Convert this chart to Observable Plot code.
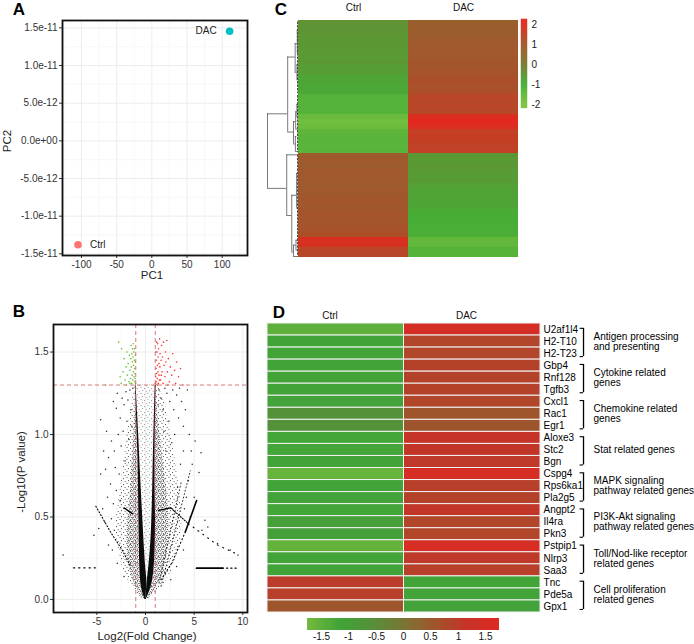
<!DOCTYPE html>
<html><head><meta charset="utf-8">
<script src="https://cdn.jsdelivr.net/npm/d3@7"></script>
<script src="https://cdn.jsdelivr.net/npm/@observablehq/plot@0.6"></script>
<style>
body{margin:0;background:#fff;}
#fig{position:relative;width:694px;height:644px;overflow:hidden;background:#fff;font-family:"Liberation Sans",Arial,Helvetica,sans-serif;color:#000;}
</style></head><body><div id="fig"></div>
<script>
// ================= DATA =================
// Panel A (PCA)
const pcaNames = ["Ctrl", "DAC"];
const pcaPC1 = [-105, 110.6];
const pcaPC2 = [-1.38e-11, 1.456e-11];
const pcaXTicks = [-100, -50, 0, 50, 100];
const pcaXMinor = [-125, -75, -25, 25, 75, 125];
const pcaYTicks = [-1.5e-11, -1e-11, -5e-12, 0, 5e-12, 1e-11, 1.5e-11];
const pcaYMinor = [-1.25e-11, -7.5e-12, -2.5e-12, 2.5e-12, 7.5e-12, 1.25e-11];

// Panel B (volcano) — outlines of the dense point cloud, read per -log10(p) level
const volY      = [0, 0.05, 0.1, 0.15, 0.2, 0.3, 0.4, 0.5, 0.6, 0.7, 0.8, 0.9, 1.0, 1.1, 1.2, 1.3];
const volOuterL = [-0.3,-1.1,-1.7,-2.1,-2.4,-2.8,-3.0,-3.0,-2.8,-2.5,-2.3,-2.1,-1.9,-1.6,-1.4,-1.1];
const volInnerL = [-0.2,-0.8,-1.2,-1.5,-1.7,-1.9,-1.9,-1.8,-1.6,-1.5,-1.4,-1.3,-1.2,-1.1,-1.05,-1.04];
const volArmLo  = [-0.05,-0.35,-0.5,-0.55,-0.6,-0.62,-0.65,-0.68,-0.7,-0.72,-0.74,-0.8,-0.86,-0.92,-0.98,-1.04];
const volArmLi  = [0,0.1,0.15,0.1,0,-0.1,-0.2,-0.28,-0.38,-0.46,-0.55,-0.62,-0.7,-0.79,-0.88,-0.97];
const volArmRi  = [0,0.1,0.15,0.25,0.35,0.5,0.6,0.66,0.71,0.75,0.78,0.82,0.86,0.9,0.95,1.0];
const volArmRo  = [0.08,0.45,0.7,0.82,0.9,1.0,1.02,1.04,1.0,0.98,0.98,0.98,1.0,1.02,1.05,1.1];
const volInnerR = [0.3,0.9,1.4,1.8,2.0,2.3,2.4,2.4,2.3,2.1,1.9,1.7,1.5,1.3,1.15,1.1];
const volOuterR = [0.4,1.3,2.0,2.5,2.9,3.4,3.7,3.8,3.6,3.4,3.2,2.9,2.6,2.3,2.0,1.3];
// streaks of points
const streakLeftDiag  = [[-5.1,0.565],[-3.6,0.41],[-2.4,0.30],[-1.5,0.2]];
const streakLeftElbow = [[-2.2,0.555],[-1.35,0.52]];
const streakLeftFlat  = [[-7.4,0.192],[-5.15,0.192]];
const streakRightSteep = [[5.25,0.6],[4.1,0.41]];
const streakRightSteepDots = [[4.1,0.41],[2.7,0.22],[1.6,0.12]];
const streakRightElbow = [[1.35,0.54],[2.6,0.555]];
const streakRightDiagA = [[2.6,0.555],[4.4,0.46]];
const streakRightDiagB = [[4.4,0.46],[7.4,0.33],[9.6,0.27]];
const streakRightFlat  = [[5.24,0.19],[7.9,0.19]];
const streakRightFlatDots = [[7.9,0.19],[9.6,0.19]];
const rayRight1 = [[1.6,0.08],[4.6,0.78]];
const rayRight2 = [[1.4,0.1],[3.7,0.72]];
const volBlack = [[-4.6,0.76],[-4.1,0.79],[-3.8,0.86],[-4.0,1.02],[-4.6,1.09],[-3.3,1.2],[-3.0,1.16],[-2.9,1.25],[-3.5,0.96],[-3.2,0.9],[-2.6,1.1],[-2.4,1.22],[-2.2,1.18],[-3.6,0.7],[-3.9,0.62],[-3.5,0.49],[-4.8,0.43],[-5.3,0.39],[-8.46,0.27],[-3.0,0.66],[-2.8,1.0],[-3.1,0.8],[-4.3,0.9],[-2.5,0.93],[-2.0,1.26],[-1.8,1.21],[-1.6,1.27],[-2.7,0.76],[-3.3,0.58],[-4.4,0.55],[-1.3,1.28],[-1.5,1.15],[-1.9,1.08],[-2.3,1.02],[-1.7,0.97],[-2.1,0.84],[-2.6,0.6],[-3.2,0.42],[-3.4,0.3],[-2.9,0.22],[-2.2,0.14],[-3.8,0.33],[-4.2,0.47],[-1.4,1.05],
  [5.7,0.89],[5.1,0.96],[4.3,1.27],[4.1,1.15],[3.9,1.05],[3.7,1.2],[4.5,1.0],[3.5,1.28],[3.2,1.24],[2.8,1.27],[2.5,1.2],[2.2,1.25],[4.8,0.82],[4.4,0.72],[3.9,0.9],[5.5,0.77],[3.4,1.1],[2.9,1.15],[3.0,1.0],[4.2,0.62],[2.0,1.28],[1.6,1.22],[1.8,1.15],[6.1,0.48],[6.4,0.44],[7.4,0.34],[8.7,0.3],[9.5,0.27],[5.8,0.42],[1.4,1.27],[1.3,1.18],[2.4,1.08],[2.7,0.95],[3.6,0.82],[4.0,0.55],[4.6,0.5],[3.9,0.3],[3.2,0.2],[2.6,0.12],[1.9,1.02],[2.1,0.9],[3.3,0.68],[5.0,0.62],[4.7,0.9]];
const volDown = [[-1.02,1.31],[-1.05,1.34],[-1.08,1.37],[-1.1,1.32],[-1.12,1.4],[-1.15,1.45],[-1.18,1.35],[-1.2,1.5],[-1.22,1.42],[-1.25,1.38],[-1.28,1.47],[-1.3,1.33],[-1.32,1.52],[-1.35,1.44],[-1.38,1.36],[-1.4,1.49],[-1.42,1.31],[-1.45,1.41],[-1.48,1.54],[-1.5,1.46],[-1.55,1.34],[-1.6,1.39],[-1.65,1.48],[-1.7,1.32],[-1.78,1.43],[-1.85,1.36],[-1.9,1.5],[-2.0,1.41],[-2.1,1.33],[-2.2,1.46],[-2.3,1.38],[-2.45,1.52],[-2.6,1.35],[-2.75,1.56],[-4.1,1.3],[-1.06,1.44],[-1.14,1.52],[-1.26,1.55],[-1.04,1.48],[-1.6,1.31],[-2.5,1.31],[-1.95,1.3]];
const volUp = [[1.02,1.31],[1.05,1.35],[1.08,1.4],[1.1,1.32],[1.12,1.45],[1.15,1.37],[1.18,1.5],[1.2,1.34],[1.22,1.42],[1.25,1.55],[1.28,1.38],[1.3,1.47],[1.32,1.31],[1.35,1.52],[1.38,1.43],[1.4,1.36],[1.45,1.58],[1.48,1.41],[1.5,1.49],[1.55,1.33],[1.6,1.45],[1.65,1.54],[1.7,1.38],[1.75,1.47],[1.8,1.31],[1.85,1.56],[1.9,1.42],[2.0,1.35],[2.05,1.5],[2.1,1.44],[2.2,1.57],[2.25,1.38],[2.35,1.46],[2.45,1.32],[2.55,1.41],[2.7,1.36],[2.8,1.49],[3.0,1.39],[3.2,1.44],[3.4,1.35],[3.6,1.4],[3.85,1.3],[1.06,1.5],[1.14,1.56],[1.24,1.3],[1.42,1.33],[1.62,1.36],[2.3,1.3],[3.1,1.31]];
const volXTicks = [-5, 0, 5, 10];
const volXMinor = [-7.5, -2.5, 2.5, 7.5];
const volYTicks = [0, 0.5, 1.0, 1.5];
const volYMinor = [0.25, 0.75, 1.25];
const fcCut = [-1, 1];
const pCut = [1.3];

// Panel C (clustered heatmap, 48 rows)
const heatCSamples = ["Ctrl", "DAC"];
const heatCCtrl = [-0.5,-0.55,-0.55,-0.6,-0.6,-0.6,-0.65,-0.65,-0.6,-0.7,-0.7,-0.85,-0.85,-0.9,-0.9,-1.25,-1.3,-1.25,-1.3,-1.7,-1.85,-1.75,-1.45,-1.4,-1.35,-1.4,-1.35,0.85,0.9,0.85,0.9,0.95,0.9,0.85,0.9,0.95,1.0,0.95,1.0,1.05,1.0,1.05,1.1,1.15,1.85,1.8,1.35,1.3];
const heatCDac  = [0.75,0.8,0.8,0.85,0.9,0.9,0.95,0.95,1.0,1.0,1.05,1.1,1.15,1.1,1.15,1.35,1.3,1.35,1.3,1.9,2.0,1.9,1.5,1.55,1.5,1.45,1.5,-0.6,-0.65,-0.6,-0.65,-0.7,-0.65,-0.75,-0.8,-0.8,-0.85,-0.85,-0.95,-1.0,-1.0,-1.05,-1.05,-1.1,-1.55,-1.5,-1.3,-1.3];
// dendrogram nodes: [height, upper child row, lower child row, upper child height, lower child height]
const dendNodes = [
  [0.99, 18.9, 34.0, 0.345, 0.376],
  [0.345, 7.4, 22.6, 0.107, 0.16],
  [0.107, 4.7, 10.5, 0.04, 0.05],
  [0.05, 9.0, 12.0, 0, 0],
  [0.04, 2.0, 6.5, 0, 0],
  [0.16, 20.5, 25.0, 0.09, 0.1],
  [0.09, 18.5, 22.0, 0.03, 0],
  [0.1, 23.5, 26.5, 0.05, 0],
  [0.05, 17.0, 19.5, 0, 0],
  [0.376, 27.2, 39.5, 0.01, 0.215],
  [0.215, 35.4, 46.9, 0.06, 0.16],
  [0.06, 31.0, 38.0, 0, 0],
  [0.16, 45.5, 47.8, 0.08, 0],
  [0.08, 44.5, 46.5, 0, 0]
];
const dendLeafBlocks = [[0.3, 14.8], [15.2, 26.8], [27.2, 47.7]];
const heatCTicks = [-2, -1, 0, 1, 2];
const heatCStops = [-2, -1, 0, 1, 2];
const heatCColors = ["#7ac140", "#46ad36", "#7b7832", "#a3562b", "#e2281f"];

// Panel D (selected genes)
const geneNames = ["U2af1l4","H2-T10","H2-T23","Gbp4","Rnf128","Tgfb3","Cxcl1","Rac1","Egr1","Aloxe3","Stc2","Bgn","Cspg4","Rps6ka1","Pla2g5","Angpt2","Il4ra","Pkn3","Pstpip1","Nlrp3","Saa3","Tnc","Pde5a","Gpx1"];
const geneCtrl = [-1.5,-1.15,-1.15,-1.15,-1.15,-1.15,-1.1,-0.6,-0.6,-1.2,-1.2,-1.15,-1.6,-1.15,-1.1,-1.2,-1.0,-1.05,-1.55,-1.15,-1.15,1.0,0.95,0.6];
const geneDac  = [1.5,0.85,0.85,0.9,0.9,0.9,0.85,0.6,0.6,1.15,1.1,1.05,1.55,0.95,0.9,1.1,0.85,0.85,1.55,1.05,0.95,-1.15,-1.15,-1.1];
const groupLabels = ["Antigen processing\nand presenting","Cytokine related\ngenes","Chemokine related\ngenes","Stat related genes","MAPK signaling\npathway related genes","PI3K-Akt signaling\npathway related genes","Toll/Nod-like receptor\nrelated genes","Cell proliferation\nrelated genes"];
const groupSizes = [3,3,3,3,3,3,3,3];
const heatDStops = [-1.75,-1.1667,-0.5833,0,0.5833,1.1667,1.75];
const heatDColors = ["#74b93d","#41a439","#55913a","#7a7635","#9e562c","#c73229","#de2a22"];
const heatDTicks = [-1.5,-1,-0.5,0,0.5,1,1.5];

// ================= HELPERS =================
const FONT = '"Liberation Sans", Arial, Helvetica, sans-serif';
const fig = document.getElementById("fig");
function put(el, left, top) {
  el.style.position = "absolute"; el.style.left = left + "px"; el.style.top = top + "px";
  fig.appendChild(el);
}
function txt(s, cx, cy, size, opt = {}) {
  const d = document.createElement("div");
  d.textContent = s;
  d.style.cssText = `position:absolute;left:${cx}px;top:${cy}px;font-size:${size}px;line-height:1;white-space:nowrap;font-family:${FONT};font-weight:${opt.bold ? "bold" : "normal"};color:${opt.color || "#000"};transform:translate(-50%,-50%)${opt.rot ? " rotate(-90deg)" : ""};`;
  fig.appendChild(d);
}
const sci = v => v === 0 ? "0.0e+00" : v.toExponential(1).replace(/e([+-])(\d)$/, (m, s, d) => "e" + s + "0" + d);
const plain = d => String(d);
const baseStyle = {fontFamily: FONT, fontSize: "10px", color: "#333", background: "transparent", overflow: "visible"};
const xy = d => ({x: d[0], y: d[1]});

// ================= PANEL A =================
const pca = pcaNames.map((n, i) => ({name: n, pc1: pcaPC1[i], pc2: pcaPC2[i]}));
const plotA = Plot.plot({
  width: 260, height: 280, marginLeft: 62, marginRight: 13, marginTop: 20, marginBottom: 25,
  style: baseStyle,
  x: {domain: [-127, 136], ticks: pcaXTicks, tickFormat: plain, tickSize: 3, tickPadding: 2, label: null},
  y: {domain: [-1.522e-11, 1.598e-11], ticks: pcaYTicks, tickFormat: sci, tickSize: 3, tickPadding: 2, label: null},
  marks: [
    Plot.ruleX(pcaXMinor, {stroke: "#f4f4f4", strokeWidth: 0.6}),
    Plot.ruleY(pcaYMinor, {stroke: "#f4f4f4", strokeWidth: 0.6}),
    Plot.ruleX(pcaXTicks, {stroke: "#ebebeb", strokeWidth: 0.9}),
    Plot.ruleY(pcaYTicks, {stroke: "#ebebeb", strokeWidth: 0.9}),
    Plot.dot(pca.filter(d => d.name === "Ctrl"), {x: "pc1", y: "pc2", r: 3.8, fill: "#F8766D"}),
    Plot.dot(pca.filter(d => d.name === "DAC"), {x: "pc1", y: "pc2", r: 3.8, fill: "#00BFC4"}),
    Plot.text(pca.filter(d => d.name === "Ctrl"), {x: "pc1", y: "pc2", text: "name", dx: 12, textAnchor: "start", fontSize: 10, fill: "#222"}),
    Plot.text(pca.filter(d => d.name === "DAC"), {x: "pc1", y: "pc2", text: "name", dx: -13, textAnchor: "end", fontSize: 10, fill: "#222"}),
    Plot.frame({stroke: "#111", strokeWidth: 1.8})
  ]
});
put(plotA, 0, 0);

// ================= PANEL B =================
const vol = volY.map((y, i) => ({y, oL: volOuterL[i], iL: volInnerL[i], aLo: volArmLo[i], aLi: volArmLi[i], aRi: volArmRi[i], aRo: volArmRo[i], iR: volInnerR[i], oR: volOuterR[i]}));
const lineXY = (arr, o) => Plot.line(arr, {x: d => d[0], y: d => d[1], stroke: "#000", ...o});
const plotB = Plot.plot({
  width: 260, height: 340, marginLeft: 53, marginRight: 13, marginTop: 34, marginBottom: 18,
  style: baseStyle,
  x: {domain: [-9.45, 10.48], ticks: volXTicks, tickFormat: plain, tickSize: 3, tickPadding: 2, label: null},
  y: {domain: [-0.079, 1.667], ticks: volYTicks, tickFormat: d3.format(".1f"), tickSize: 3, tickPadding: 2, label: null},
  marks: [
    Plot.ruleX(volXMinor, {stroke: "#f4f4f4", strokeWidth: 0.6}),
    Plot.ruleY(volYMinor, {stroke: "#f4f4f4", strokeWidth: 0.6}),
    Plot.ruleX(volXTicks, {stroke: "#ebebeb", strokeWidth: 0.9}),
    Plot.ruleY(volYTicks, {stroke: "#ebebeb", strokeWidth: 0.9}),
    Plot.areaX(vol, {y: "y", x1: "oL", x2: "aLo", fill: "url(#speckSparse)", curve: "basis"}),
    Plot.areaX(vol, {y: "y", x1: "iL", x2: "aLo", fill: "url(#speckDense)", curve: "basis"}),
    Plot.areaX(vol, {y: "y", x1: "aRo", x2: "oR", fill: "url(#speckSparse)", curve: "basis"}),
    Plot.areaX(vol, {y: "y", x1: "aRo", x2: "iR", fill: "url(#speckDense)", curve: "basis"}),
    Plot.areaX(vol, {y: "y", x1: "aLi", x2: "aRi", fill: "url(#speckSparse)", fillOpacity: 0.6, curve: "basis"}),
    Plot.areaX(vol, {y: "y", x1: "aLo", x2: "aLi", fill: "#000", fillOpacity: 0.95, curve: "basis"}),
    Plot.areaX(vol, {y: "y", x1: "aRi", x2: "aRo", fill: "#000", fillOpacity: 0.95, curve: "basis"}),
    lineXY(streakLeftDiag, {strokeWidth: 1.1, strokeDasharray: "1,2.2"}),
    lineXY(streakLeftElbow, {strokeWidth: 1.4}),
    lineXY(streakLeftFlat, {strokeWidth: 1.2, strokeDasharray: "1.2,4"}),
    lineXY(streakRightSteep, {strokeWidth: 1.6}),
    lineXY(streakRightSteepDots, {strokeWidth: 1.1, strokeDasharray: "1,2.8"}),
    lineXY(streakRightElbow, {strokeWidth: 1.4}),
    lineXY(streakRightDiagA, {strokeWidth: 1.1, strokeDasharray: "1,1.6"}),
    lineXY(streakRightDiagB, {strokeWidth: 1.1, strokeDasharray: "1,5"}),
    lineXY(streakRightFlat, {strokeWidth: 1.7}),
    lineXY(streakRightFlatDots, {strokeWidth: 1.2, strokeDasharray: "1.2,3"}),
    lineXY(rayRight1, {strokeWidth: 1, strokeDasharray: "1,2.5", strokeOpacity: 0.8}),
    lineXY(rayRight2, {strokeWidth: 1, strokeDasharray: "1,2.5", strokeOpacity: 0.8}),
    Plot.dot(volBlack.map(xy), {x: "x", y: "y", r: 0.75, fill: "#000", fillOpacity: 0.85}),
    Plot.dot(volDown.map(xy), {x: "x", y: "y", r: 0.8, fill: "#5ec22c"}),
    Plot.dot(volUp.map(xy), {x: "x", y: "y", r: 0.8, fill: "#ff2a2a"}),
    Plot.ruleX(fcCut, {stroke: "#d46a68", strokeWidth: 0.9, strokeDasharray: "4,3"}),
    Plot.ruleY(pCut, {stroke: "#d46a68", strokeWidth: 0.9, strokeDasharray: "4,3"}),
    Plot.frame({stroke: "#111", strokeWidth: 1.8})
  ]
});
{
  const ns = "http://www.w3.org/2000/svg";
  const defs = document.createElementNS(ns, "defs");
  defs.innerHTML =
    '<pattern id="speckSparse" width="7" height="6" patternUnits="userSpaceOnUse">' +
      '<circle cx="1" cy="1.2" r="0.55"/><circle cx="4.6" cy="2.6" r="0.55"/><circle cx="2.4" cy="4.6" r="0.55"/><circle cx="6.1" cy="5.4" r="0.5"/></pattern>' +
    '<pattern id="speckDense" width="4" height="4" patternUnits="userSpaceOnUse">' +
      '<circle cx="0.8" cy="0.8" r="0.6"/><circle cx="2.8" cy="1.6" r="0.6"/><circle cx="1.6" cy="3.0" r="0.6"/><circle cx="3.5" cy="3.5" r="0.5"/></pattern>';
  plotB.insertBefore(defs, plotB.firstChild);
}
put(plotB, 0, 290);

// ================= PANEL C =================
const colorC = {type: "linear", domain: heatCStops, range: heatCColors, interpolate: "rgb", clamp: true};
const cellsC = heatCCtrl.flatMap((v, i) => [
  {x1: 0, x2: 1, y1: i, y2: i + 1, v},
  {x1: 1, x2: 2, y1: i, y2: i + 1, v: heatCDac[i]}
]);
const plotC = Plot.plot({
  width: 220, height: 270, marginLeft: 0, marginRight: 0, marginTop: 20, marginBottom: 13,
  style: baseStyle,
  x: {domain: [0, 2], axis: null},
  y: {domain: [0, heatCCtrl.length], reverse: true, axis: null},
  color: colorC,
  marks: [
    Plot.rect(cellsC, {x1: "x1", x2: "x2", y1: "y1", y2: "y2", fill: "v", shapeRendering: "crispEdges"}),
    Plot.text(heatCSamples, {x: (d, i) => i + 0.5, frameAnchor: "top", lineAnchor: "middle", dy: -13, text: d => d, fontSize: 10, fill: "#111"})
  ]
});
put(plotC, 298, 0);

// dendrogram
const dV = dendNodes.map(n => ({h: n[0], y1: n[1], y2: n[2]}));
const dH = dendNodes.flatMap(n => [{y: n[1], h1: n[0], h2: n[3]}, {y: n[2], h1: n[0], h2: n[4]}]);
const plotDend = Plot.plot({
  width: 42, height: 270, marginLeft: 9, marginRight: 2, marginTop: 20, marginBottom: 13,
  style: baseStyle,
  x: {domain: [0.99, 0], axis: null},
  y: {domain: [0, heatCCtrl.length], reverse: true, axis: null},
  marks: [
    Plot.ruleY(dH, {y: "y", x1: "h1", x2: "h2", stroke: "#555", strokeWidth: 0.8}),
    Plot.ruleX(dV, {x: "h", y1: "y1", y2: "y2", stroke: "#555", strokeWidth: 0.8}),
    Plot.ruleX(dendLeafBlocks, {x: 0.03, y1: d => d[0], y2: d => d[1], stroke: "#444", strokeWidth: 1, strokeDasharray: "2.5,1"})
  ]
});
put(plotDend, 258, 0);

// colour key C
const cbarC = d3.range(-2.2, 2.25, 0.025);
const plotCbar = Plot.plot({
  width: 45, height: 120, marginLeft: 6, marginRight: 33, marginTop: 19, marginBottom: 12,
  style: {...baseStyle, color: "#222"},
  x: {domain: [0, 1], axis: null},
  y: {domain: [-2.2, 2.25], ticks: heatCTicks, tickFormat: plain, tickSize: 0, tickPadding: 4, axis: "right", label: null},
  color: colorC,
  marks: [
    Plot.rect(cbarC, {x1: 0, x2: 1, y1: d => d, y2: d => d + 0.03, fill: d => d, stroke: d => d, strokeWidth: 0.3})
  ]
});
put(plotCbar, 515, 0);

// ================= PANEL D =================
const colorD = {type: "linear", domain: heatDStops, range: heatDColors, interpolate: "rgb", clamp: true};
const cellsD = geneNames.flatMap((g, i) => [
  {x1: 0, x2: 1, y1: i, y2: i + 1, v: geneCtrl[i]},
  {x1: 1, x2: 2, y1: i, y2: i + 1, v: geneDac[i]}
]);
let acc = 0;
const groups = groupLabels.map((label, k) => { const s = acc; acc += groupSizes[k]; return {label, start: s, end: acc}; });
const BX = 2.315, TX = 2.29, LX = 2.388;
const plotD = Plot.plot({
  width: 434, height: 325, marginLeft: 7, marginRight: 0, marginTop: 33, marginBottom: 3,
  style: {...baseStyle, color: "#000"},
  x: {domain: [0, 3.128], axis: null},
  y: {domain: [0, geneNames.length], reverse: true, axis: null},
  color: colorD,
  marks: [
    Plot.rect(cellsD, {x1: "x1", x2: "x2", y1: "y1", y2: "y2", fill: "v", stroke: "#f2f2f2", strokeWidth: 1}),
    Plot.text(heatCSamples, {x: (d, i) => i + 0.48, frameAnchor: "top", lineAnchor: "middle", dy: -8, dx: -3, text: d => d, fontSize: 10, fill: "#111"}),
    Plot.text(geneNames, {x: 2, y: (d, i) => i + 0.5, text: d => d, dx: 3, textAnchor: "start", fontSize: 10, fill: "#000"}),
    Plot.ruleX(groups, {x: BX, y1: d => d.start + 0.4, y2: d => d.end - 0.25, stroke: "#000", strokeWidth: 1.3}),
    Plot.ruleY(groups, {y: d => d.start + 0.4, x1: TX, x2: BX, stroke: "#000", strokeWidth: 1.1}),
    Plot.ruleY(groups, {y: d => d.end - 0.25, x1: TX, x2: BX, stroke: "#000", strokeWidth: 1.1}),
    Plot.text(groups, {x: LX, y: d => (d.start + d.end) / 2, text: "label", textAnchor: "start", fontSize: 10, lineHeight: 1.0, fill: "#000"})
  ]
});
put(plotD, 260, 290);

const legD = Plot.legend({
  color: colorD, width: 192, height: 28, marginTop: 0, marginBottom: 16, marginLeft: 0, marginRight: 0,
  ticks: heatDTicks, tickFormat: plain, tickSize: 0, label: null,
  style: {fontFamily: FONT, fontSize: "10px", color: "#111", background: "transparent", overflow: "visible"}
});
legD.querySelectorAll(".tick line").forEach(l => l.remove());
put(legD, 307, 618);

// ================= TEXT =================
txt("A", 19, 9, 17, {bold: true});
txt("B", 19, 311, 17, {bold: true});
txt("C", 281, 9, 17, {bold: true});
txt("D", 279, 312, 17, {bold: true});
txt("PC1", 152, 276, 11.5, {color: "#222"});
txt("PC2", 8, 141, 11.5, {color: "#222", rot: true});
txt("-Log10(P value)", 22, 472, 11.5, {color: "#222", rot: true});
txt("Log2(Fold Change)", 147, 637, 11.5, {color: "#222"});
</script></body></html>
